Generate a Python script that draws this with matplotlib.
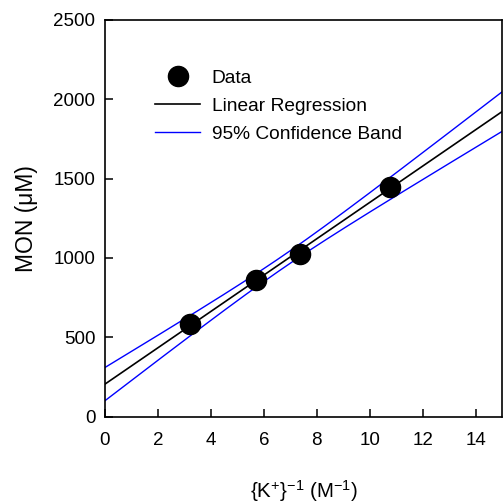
import numpy as np
import matplotlib
matplotlib.use("Agg")
import matplotlib.pyplot as plt

plt.rcParams["font.family"] = ["Liberation Sans", "DejaVu Sans"]
plt.rcParams["mathtext.fontset"] = "custom"
plt.rcParams["mathtext.rm"] = "Liberation Sans"
plt.rcParams["mathtext.it"] = "Liberation Sans:italic"
plt.rcParams["mathtext.bf"] = "Liberation Sans:bold"

# Measurements: inverse potassium concentration vs MON
inv_k = np.array([3.21, 5.71, 7.37, 10.76])
mon = np.array([581.0, 859.0, 1027.0, 1448.0])

x_ticks = [0, 2, 4, 6, 8, 10, 12, 14]
y_ticks = [0, 500, 1000, 1500, 2000, 2500]

# Least-squares fit and 95% confidence band for the mean response
n = len(inv_k)
slope, intercept = np.polyfit(inv_k, mon, 1)
resid = mon - (slope * inv_k + intercept)
s = np.sqrt(np.sum(resid ** 2) / (n - 2))
t_crit = 4.303  # Student t, 95% two-sided, df = 2
sxx = np.sum((inv_k - inv_k.mean()) ** 2)

xs = np.linspace(0, 15, 300)
fit = slope * xs + intercept
half = t_crit * s * np.sqrt(1.0 / n + (xs - inv_k.mean()) ** 2 / sxx)

fig = plt.figure(figsize=(5.03, 5.04), dpi=100)
ax = fig.add_axes([105 / 503, 1 - 416.5 / 504, 397 / 503, 396.5 / 504])

ax.plot(inv_k, mon, "o", color="black", markersize=14.5, zorder=3, label="Data")
ax.plot(xs, fit, color="black", lw=1.2, label="Linear Regression")
ax.plot(xs, fit + half, color="#0000ff", lw=1.0, label="95% Confidence Band")
ax.plot(xs, fit - half, color="#0000ff", lw=1.0)

ax.set_xlim(0, 15)
ax.set_ylim(0, 2500)
ax.set_xticks(x_ticks)
ax.set_yticks(y_ticks)
ax.tick_params(direction="in", length=6, width=1.1, labelsize=13.5,
               top=False, right=False)
ax.tick_params(axis="x", pad=11)
ax.tick_params(axis="y", pad=7)
for sp in ax.spines.values():
    sp.set_linewidth(1.2)

ax.set_xlabel(r"{K$^{+}$}$^{-1}$ (M$^{-1}$)", fontsize=14.8, labelpad=21)
ax.set_ylabel("MON (\u03bcM)", fontsize=16.5, labelpad=11)

leg = ax.legend(loc="upper left", bbox_to_anchor=(0.125, 0.875), frameon=False,
                fontsize=13.75, handlelength=2.4, handletextpad=0.58,
                labelspacing=0.55, borderaxespad=0, borderpad=0, numpoints=1)

fig.savefig("out.png", dpi=100)
